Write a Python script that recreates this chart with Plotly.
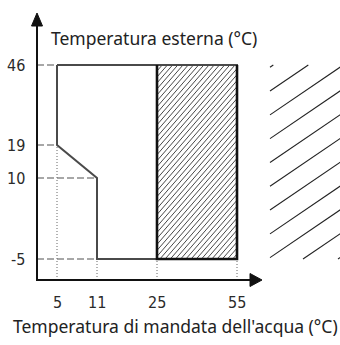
import numpy as np
import plotly.graph_objects as go

# ---------------- data ----------------
x_ticks = [5, 11, 25, 55]            # water outlet temperature (°C)
y_ticks = [46, 19, 10, -5]           # outdoor temperature (°C)
x_tick_labels = ["5", "11", "25", "55"]
y_tick_labels = ["46", "19", "10", "-5"]

# operating envelope boundary (water temp, outdoor temp)
env_water = [5, 55, 55, 11, 11, 5, 5]
env_outdoor = [46, 46, -5, -5, 10, 19, 46]

# hatched sub-range (water temp from 25 to 55, outdoor -5..46)
hatch_water = [25, 55]
hatch_outdoor = [-5, 46]

# guide ends: dotted verticals reach the envelope at these outdoor temps
x_guide_to = [19, -5, -5, -5]
# dashed horizontals reach the envelope at these water temps
y_guide_to = [5, 5, 11, 11]

x_title = "Temperatura di mandata dell'acqua (°C)"
y_title = "Temperatura esterna (°C)"

# ---------------- schematic (non-linear) scale ----------------
W, H = 340, 345
X_POS = [57, 97, 157, 237]           # screen positions of x ticks
Y_POS = [H - 65, H - 145, H - 178, H - 259]
AX_X = 37                            # y-axis line position
AX_Y = H - 280                       # x-axis line position


def sx(v):
    xs = np.array(x_ticks, float)
    return float(np.interp(v, xs, X_POS))


def sy(v):
    ys = np.array(y_ticks, float)[::-1]
    return float(np.interp(v, ys, np.array(Y_POS, float)[::-1]))


def hatch(x0, x1, y0, y1, spacing, slope, phase=0.0):
    xs, ys = [], []
    h = y1 - y0
    c = x0 - h / slope - spacing + phase
    while c < x1 + spacing:
        xa = max(c, x0)
        xb = min(c + h / slope, x1)
        if xa < xb:
            xs += [xa, xb, None]
            ys += [y0 + slope * (xa - c), y0 + slope * (xb - c), None]
        c += spacing
    return xs, ys


fig = go.Figure()

# hatched band inside the envelope
hx, hy = hatch(sx(hatch_water[0]), sx(hatch_water[1]),
               sy(hatch_outdoor[0]), sy(hatch_outdoor[1]), 5.2, 1.15)
fig.add_trace(go.Scatter(x=hx, y=hy, mode="lines",
                         line=dict(color="#333333", width=0.9), hoverinfo="skip"))

# decorative sparse hatching at the right (cropped legend swatch)
rx, ry = hatch(270, 345, sy(hatch_outdoor[0]), sy(hatch_outdoor[1]),
               35, 0.68, phase=3.3)
fig.add_trace(go.Scatter(x=rx, y=ry, mode="lines",
                         line=dict(color="#222222", width=1.1), hoverinfo="skip"))

# dashed horizontal guides
for yv, xe in zip(y_ticks, y_guide_to):
    fig.add_trace(go.Scatter(x=[AX_X, sx(xe)], y=[sy(yv), sy(yv)], mode="lines",
                             line=dict(color="#8a8a8a", width=1.5, dash="7px,3px"),
                             hoverinfo="skip"))
# dotted vertical guides
for xv, ye in zip(x_ticks, x_guide_to):
    fig.add_trace(go.Scatter(x=[sx(xv), sx(xv)], y=[AX_Y, sy(ye)], mode="lines",
                             line=dict(color="#666666", width=1, dash="1px,2px"),
                             hoverinfo="skip"))

# envelope outline
fig.add_trace(go.Scatter(x=[sx(v) for v in env_water],
                         y=[sy(v) for v in env_outdoor], mode="lines",
                         line=dict(color="#4a4a4a", width=2), hoverinfo="skip"))

# black border of hatched band (left, bottom, right)
bx = [sx(hatch_water[0]), sx(hatch_water[0]), sx(hatch_water[1]), sx(hatch_water[1])]
by = [sy(hatch_outdoor[1]), sy(hatch_outdoor[0]), sy(hatch_outdoor[0]), sy(hatch_outdoor[1])]
fig.add_trace(go.Scatter(x=bx, y=by, mode="lines",
                         line=dict(color="#111111", width=2.6), hoverinfo="skip"))

# axes lines + arrows
fig.add_trace(go.Scatter(x=[AX_X, AX_X, 255], y=[H - 20, AX_Y, AX_Y], mode="lines",
                         line=dict(color="#111111", width=2), hoverinfo="skip"))
fig.add_trace(go.Scatter(x=[AX_X - 5.5, AX_X, AX_X + 5.5, AX_X - 5.5],
                         y=[H - 26, H - 13, H - 26, H - 26], mode="lines",
                         fill="toself", fillcolor="#111111",
                         line=dict(color="#111111", width=1), hoverinfo="skip"))
fig.add_trace(go.Scatter(x=[250, 262, 250, 250],
                         y=[AX_Y + 6.5, AX_Y, AX_Y - 6.5, AX_Y + 6.5], mode="lines",
                         fill="toself", fillcolor="#111111",
                         line=dict(color="#111111", width=1), hoverinfo="skip"))

tick_font = dict(family="Liberation Sans Narrow, DejaVu Sans Condensed, sans-serif",
                 size=16, color="#2a2a2a")
title_font = dict(family="Noto Sans, Lato, sans-serif", size=17.5, color="#222222")

ann = []
for yv, lab in zip(y_ticks, y_tick_labels):
    ann.append(dict(x=26, y=sy(yv), text=lab, showarrow=False, xanchor="right",
                    yanchor="middle", font=tick_font, borderpad=0))
for xv, lab in zip(x_ticks, x_tick_labels):
    ann.append(dict(x=sx(xv), y=H - 302, text=lab, showarrow=False, xanchor="center",
                    yanchor="middle", font=tick_font, borderpad=0))
ann.append(dict(x=50, y=H - 38, text=y_title, showarrow=False, xanchor="left",
                yanchor="middle", font=title_font, borderpad=0))
ann.append(dict(x=175, y=H - 326, text=x_title, showarrow=False, xanchor="center",
                yanchor="middle", font=title_font, borderpad=0))

fig.update_layout(
    width=W, height=H, margin=dict(l=0, r=0, t=0, b=0),
    paper_bgcolor="white", plot_bgcolor="white", showlegend=False,
    xaxis=dict(range=[0, W], visible=False, fixedrange=True),
    yaxis=dict(range=[0, H], visible=False, fixedrange=True),
    annotations=ann,
)

fig.write_html("out.html", config={"displayModeBar": False},
               post_script="document.body.style.margin='0';document.body.style.overflow='hidden';")
